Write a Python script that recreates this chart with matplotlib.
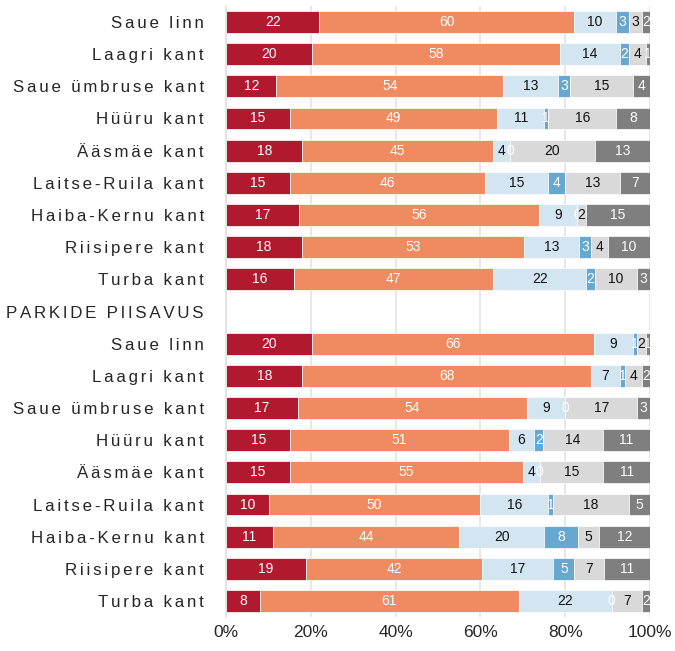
import matplotlib
matplotlib.use("Agg")

import numpy as np
import matplotlib.pyplot as plt

plt.rcParams["font.family"] = ["Liberation Sans", "DejaVu Sans"]

# --- Data ---
CATEGORIES = [
    "Saue linn", "Laagri kant", "Saue ümbruse kant", "Hüüru kant", "Ääsmäe kant",
    "Laitse-Ruila kant", "Haiba-Kernu kant", "Riisipere kant", "Turba kant",
]
HEADER = "PARKIDE PIISAVUS"

# six answer shares per row, top block
top_vals = [
    [22, 60, 10, 3, 3, 2],
    [20, 58, 14, 2, 4, 1],
    [12, 54, 13, 3, 15, 4],
    [15, 49, 11, 1, 16, 8],
    [18, 45, 4, 0, 20, 13],
    [15, 46, 15, 4, 13, 7],
    [17, 56, 9, 0, 2, 15],
    [18, 53, 13, 3, 4, 10],
    [16, 47, 22, 2, 10, 3],
]
# bottom block (parkide piisavus)
bottom_vals = [
    [20, 66, 9, 1, 2, 1],
    [18, 68, 7, 1, 4, 2],
    [17, 54, 9, 0, 17, 3],
    [15, 51, 6, 2, 14, 11],
    [15, 55, 4, 0, 15, 11],
    [10, 50, 16, 1, 18, 5],
    [11, 44, 20, 8, 5, 12],
    [19, 42, 17, 5, 7, 11],
    [8, 61, 22, 0, 7, 2],
]

X_TICKS = [0, 20, 40, 60, 80, 100]

SEG_COLORS = ["#B0192E", "#F08B61", "#D2E5F0", "#67A8D0", "#D9D9D9", "#7F7F7F"]
TXT_COLORS = ["white", "white", "#111111", "white", "#111111", "white"]


def spaced(s, sep="\u2006"):
    # fake letter spacing with six-per-em spaces
    return sep.join(s)


labels = CATEGORIES + [HEADER] + CATEGORIES
rows = top_vals + [None] + bottom_vals

fig = plt.figure(figsize=(6.75, 6.51), dpi=100)
ax = fig.add_axes([0.335, 0.052, 0.628, 0.939])

y = np.arange(len(labels))
for i, vals in enumerate(rows):
    if vals is None:
        continue
    v = np.array(vals, dtype=float)
    widths = v / v.sum() * 100  # stretch rounded shares to the full bar
    left = 0.0
    for j, w in enumerate(widths):
        ax.barh(y[i], w, left=left, height=0.68, color=SEG_COLORS[j],
                edgecolor="white", linewidth=0.5, zorder=2)
        ax.text(left + w / 2, y[i], str(vals[j]), ha="center", va="center",
                fontsize=10, color=TXT_COLORS[j], zorder=3)
        left += w

ax.set_ylim(len(labels) - 0.5, -0.5)
ax.set_xlim(0, 100)
ax.set_yticks(y)
ax.set_yticklabels([spaced(s) for s in labels], fontsize=12.2, color="#262626")
ax.set_xticks(X_TICKS)
ax.set_xticklabels([f"{t}%" for t in X_TICKS], fontsize=12.5, color="#262626")
ax.tick_params(axis="both", length=0, pad=6)
ax.tick_params(axis="y", pad=16)

ax.grid(axis="x", color="#E3E3E3", linewidth=1.2, zorder=0)
for side in ["top", "right", "bottom"]:
    ax.spines[side].set_visible(False)
ax.spines["left"].set_color("#E3E3E3")
ax.spines["left"].set_linewidth(1.2)

fig.savefig("out.png", dpi=100, facecolor="white")
